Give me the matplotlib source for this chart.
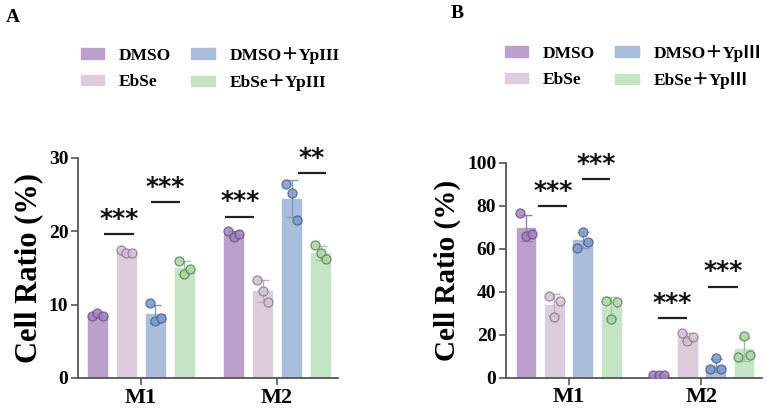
import numpy as np
import matplotlib
matplotlib.use("Agg")
import matplotlib.pyplot as plt
from matplotlib.patches import Patch

plt.rcParams['font.family'] = ['Liberation Serif', 'Noto Sans CJK SC', 'DejaVu Sans']
plt.rcParams['font.weight'] = 'bold'

groups = ["M1", "M2"]
series_a = ["DMSO", "EbSe", "DMSO＋YpIII", "EbSe＋YpIII"]
series_b = ["DMSO", "EbSe", "DMSO＋YpⅢ", "EbSe＋YpⅢ"]

# Panel A replicate points: [group][series] -> 3 values
pts_a_m1 = [[8.5, 8.9, 8.5], [17.5, 17.0, 17.0], [10.2, 7.8, 8.2], [16.0, 14.2, 14.9]]
pts_a_m2 = [[20.0, 19.2, 19.7], [13.4, 11.9, 10.3], [26.5, 25.2, 21.6], [18.1, 17.0, 16.2]]
# Panel B replicate points
pts_b_m1 = [[76.7, 65.9, 66.7], [38.0, 28.2, 35.8], [60.5, 67.9, 63.3], [35.8, 27.2, 35.3]]
pts_b_m2 = [[1.2, 1.2, 1.2], [20.9, 17.2, 19.1], [3.9, 9.0, 3.9], [9.8, 19.5, 10.5]]

# significance brackets: (x_start, x_end, y, label) in axis units
sig_a = [(-1.28, -0.24, 19.6, "***"), (0.34, 1.34, 24.0, "***"),
         (4.69 - 1.79, 4.69 - 0.78, 22.0, "***"), (4.69 + 0.71, 4.69 + 1.69, 27.9, "**")]
sig_b = [(-1.06, -0.05, 79.9, "***"), (0.46, 1.46, 92.3, "***"),
         (4.67 - 1.53, 4.67 - 0.50, 27.6, "***"), (4.67 + 0.23, 4.67 + 1.27, 42.3, "***")]

bar_colors = ["#BBA0CC", "#DCCCDC", "#AABEDC", "#C5E4C5"]
pt_face = ["#A283BE", "#D3C0D3", "#7C99CB", "#A8D6A4"]
pt_edge = ["#6A5580", "#8A7A8A", "#4D5F82", "#5E7F5E"]
err_col = ["#9A7CB4", "#BFAFBF", "#7F98C4", "#9CC89A"]

fig = plt.figure(figsize=(7.67, 4.13), dpi=100)
W, H = 767, 413

def draw_panel(rect, pts_m1, pts_m2, gdist, ylim, yticks, sig, xlim, lab_size):
    ax = fig.add_axes(rect)
    offs = np.array([-1.5, -0.5, 0.5, 1.5])
    jit = [-0.2, 0.0, 0.2]
    for gi, pts in enumerate([pts_m1, pts_m2]):
        for si in range(4):
            vals = np.array(pts[si])
            x = gi * gdist + offs[si]
            m = vals.mean(); sd = vals.std(ddof=1)
            ax.bar(x, m, width=0.66, color=bar_colors[si], edgecolor=bar_colors[si], zorder=1)
            ax.errorbar(x, m, yerr=sd, fmt='none', ecolor=err_col[si], elinewidth=1.0,
                        capsize=4, capthick=1.0, zorder=2)
            xs = [x + j for j in jit]
            ax.scatter(xs, vals, s=42, facecolor=pt_face[si], edgecolor=pt_edge[si],
                       linewidth=0.9, alpha=0.85, zorder=3)
    for x0, x1, y, lab in sig:
        ax.plot([x0, x1], [y, y], color='#222222', lw=1.6, solid_capstyle='butt', zorder=4)
        ax.annotate(lab, ((x0 + x1) / 2, y), xytext=(0, 11), textcoords='offset points',
                    ha='center', va='center', fontsize=18, family='DejaVu Sans',
                    fontweight='bold', color='#111111')
    ax.set_xlim(*xlim)
    ax.set_ylim(*ylim)
    ax.set_yticks(yticks)
    ax.set_yticklabels([str(t) for t in yticks], fontsize=14, fontweight='bold')
    ax.set_xticks([0, gdist])
    ax.set_xticklabels(groups, fontsize=16, fontweight='bold')
    for s in ['top', 'right']:
        ax.spines[s].set_visible(False)
    for s in ['left', 'bottom']:
        ax.spines[s].set_color('#555555')
        ax.spines[s].set_linewidth(1.3)
    ax.tick_params(axis='both', direction='out', length=5, width=1.2, color='#555555', pad=2)
    ax.set_ylabel("Cell Ratio (%)", fontsize=lab_size, fontweight='bold', labelpad=4)
    return ax

axA = draw_panel([78 / W, 1 - 378 / H, 260 / W, 220 / H], pts_a_m1, pts_a_m2, 4.69,
                 (0, 30), [0, 10, 20, 30], sig_a, (-2.17, 6.79), 22)
axB = draw_panel([506 / W, 1 - 377.7 / H, 256 / W, 215 / H], pts_b_m1, pts_b_m2, 4.67,
                 (0, 100), [0, 20, 40, 60, 80, 100], sig_b, (-2.2, 6.8), 21)

def legend(names, x, y):
    handles = [Patch(facecolor=bar_colors[i], edgecolor=bar_colors[i]) for i in range(4)]
    fig.legend(handles, names, loc='upper left', bbox_to_anchor=(x / W, 1 - y / H),
               ncol=2, frameon=False, borderpad=0, handlelength=1.35, handleheight=0.55,
               handletextpad=0.85, columnspacing=1.15, labelspacing=0.6,
               prop={'size': 12.5, 'weight': 'bold',
                     'family': ['Liberation Serif', 'Noto Sans CJK SC']})

legend(series_a, 72, 38)
legend(series_b, 496, 36)

fig.text(13 / W, 1 - 18 / H, "A", fontsize=14, fontweight='bold', va='center', ha='center')
fig.text(457 / W, 1 - 13 / H, "B", fontsize=14, fontweight='bold', va='center', ha='center')

fig.savefig("out.png", dpi=100)
